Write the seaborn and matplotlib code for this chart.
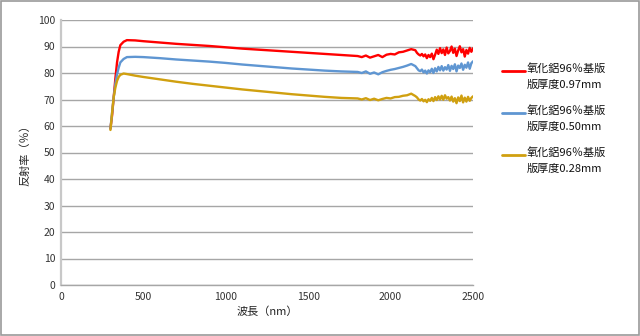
import matplotlib
matplotlib.use("Agg")
import matplotlib.pyplot as plt
import seaborn as sns
import pandas as pd
from matplotlib.lines import Line2D

# Spectral reflectance of alumina 96% substrates of three thicknesses
wavelength = [
    300, 310, 320, 330, 340, 350, 360, 380, 400, 450, 500,
    600, 700, 800, 900, 1000, 1100, 1200, 1300, 1400, 1500, 1600, 1700,
    1800, 1825, 1850, 1875, 1900, 1925, 1950, 1975, 2000, 2025, 2050, 2075,
    2100, 2125, 2150,
    2160, 2170, 2180, 2190, 2200, 2210, 2220, 2230, 2240, 2250, 2260, 2270,
    2280, 2290, 2300, 2310, 2320, 2330, 2340, 2350, 2360, 2370, 2380, 2390,
    2400, 2410, 2420, 2430, 2440, 2450, 2460, 2470, 2480, 2490, 2500,
]

refl_097 = [
    59.0, 64.0, 71.0, 78.0, 84.0, 88.0, 90.5, 91.8, 92.4, 92.3, 92.0,
    91.5, 91.0, 90.6, 90.2, 89.7, 89.2, 88.8, 88.4, 88.0, 87.6, 87.2, 86.8,
    86.4, 86.0, 86.6, 85.8, 86.3, 86.8, 86.0, 86.9, 87.2, 87.0, 87.8, 88.0,
    88.5, 89.0, 88.6,
    87.6, 87.0, 86.6, 87.2, 86.3, 87.0, 85.6, 86.8, 86.0, 87.3, 85.2, 86.9,
    88.8, 87.2, 89.4, 87.5, 88.9, 86.8, 89.6, 87.4, 88.3, 90.0, 87.6, 89.2,
    86.4, 88.5, 90.1, 87.8, 89.0, 86.2, 88.7, 87.3, 89.5, 88.0, 89.3,
]

refl_050 = [
    59.0, 65.0, 71.0, 76.0, 79.5, 82.0, 84.0, 85.3, 86.0, 86.1, 86.0,
    85.6, 85.1, 84.7, 84.3, 83.8, 83.2, 82.7, 82.2, 81.7, 81.3, 80.9, 80.6,
    80.4, 80.0, 80.6, 79.7, 80.2, 79.5, 80.3, 80.8, 81.2, 81.5, 81.9, 82.3,
    82.8, 83.4, 82.6,
    81.8, 81.0, 80.7, 81.3, 80.2, 80.9, 79.8, 81.0, 80.3, 81.6, 80.0, 81.8,
    80.6, 82.3, 81.0, 82.6, 80.9, 82.2, 81.3, 83.0, 80.8, 82.7, 81.5, 83.3,
    80.6, 82.8, 81.9, 83.6, 81.2, 83.1, 82.0, 84.0, 81.6, 83.7, 84.4,
]

refl_028 = [
    58.5, 65.0, 71.0, 74.5, 77.0, 78.5, 79.3, 79.8, 79.6, 79.0, 78.5,
    77.6, 76.7, 75.9, 75.2, 74.5, 73.8, 73.2, 72.6, 72.0, 71.5, 71.0, 70.6,
    70.4, 70.0, 70.5, 69.8, 70.3, 69.7, 70.2, 70.6, 70.4, 70.9, 71.0, 71.4,
    71.6, 72.2, 71.3,
    70.8, 70.0, 69.6, 70.2, 69.3, 69.9, 69.0, 70.1, 69.5, 70.6, 69.4, 70.9,
    69.8, 71.2, 70.0, 71.4, 69.9, 71.6, 70.3, 70.9, 69.6, 71.1, 69.2, 70.5,
    68.6, 70.8, 69.4, 71.5, 68.9, 70.7, 69.2, 71.0, 69.5, 70.6, 71.2,
]

series_labels = [
    "氧化鋁96％基版\n版厚度0.97mm",
    "氧化鋁96％基版\n版厚度0.50mm",
    "氧化鋁96％基版\n版厚度0.28mm",
]
series_colors = ["#FF0000", "#5F96D2", "#D0A010"]

x_ticks = [0, 500, 1000, 1500, 2000, 2500]
y_ticks = [0, 10, 20, 30, 40, 50, 60, 70, 80, 90, 100]

frames = []
for lab, vals in zip(series_labels, [refl_097, refl_050, refl_028]):
    frames.append(pd.DataFrame({"wl": wavelength, "r": vals, "s": lab}))
df = pd.concat(frames, ignore_index=True)

sns.set_theme(style="white")
plt.rcParams["font.family"] = ["Noto Sans CJK JP", "DejaVu Sans"]

W, H = 640, 336
fig = plt.figure(figsize=(W / 100, H / 100), dpi=100)
ax = fig.add_axes([61 / W, 51 / H, 412 / W, 265 / H])

sns.lineplot(data=df, x="wl", y="r", hue="s", palette=series_colors,
             linewidth=1.7, ax=ax, legend=False, sort=False)

ax.set_xlim(0, 2500)
ax.set_ylim(0, 100)
ax.set_xticks(x_ticks)
ax.set_yticks(y_ticks)
ax.tick_params(axis="both", labelsize=7.5, colors="#333333", length=3,
               direction="out", width=0.8)
ax.tick_params(axis="x", pad=2, color="#A6A6A6")
ax.tick_params(axis="y", pad=1, color="#A6A6A6")
ax.yaxis.grid(True, color="#A6A6A6", linewidth=1.0)
ax.xaxis.grid(False)
ax.set_axisbelow(True)

for side in ["top", "right"]:
    ax.spines[side].set_visible(False)
ax.spines["left"].set_color("#C8C8C8")
ax.spines["left"].set_linewidth(1.6)
ax.spines["bottom"].set_color("#A6A6A6")
ax.spines["bottom"].set_linewidth(1.0)

ax.set_xlabel("波長（nm）", fontsize=8, color="#222222", labelpad=3)
ax.set_ylabel("反射率（％）", fontsize=8, color="#222222", labelpad=6)

# legend: a short line sample beside the first line of each two-line label
legend_top = [71, 113, 155]
for y_px, lab, col in zip(legend_top, series_labels, series_colors):
    yf = 1 - y_px / H
    fig.add_artist(Line2D([502 / W, 525 / W], [yf, yf], color=col,
                          linewidth=2, transform=fig.transFigure))
    fig.text(527 / W, 1 - (y_px - 8) / H, lab, fontsize=8, color="#111111",
             va="top", ha="left", linespacing=1.75)

# outer frame around the whole figure
fig.patches.append(plt.Rectangle((0.001, 0.002), 0.997, 0.995,
                                 transform=fig.transFigure, fill=False,
                                 edgecolor="#9A9A9A", linewidth=1.2))

fig.savefig("out.png", dpi=100)
